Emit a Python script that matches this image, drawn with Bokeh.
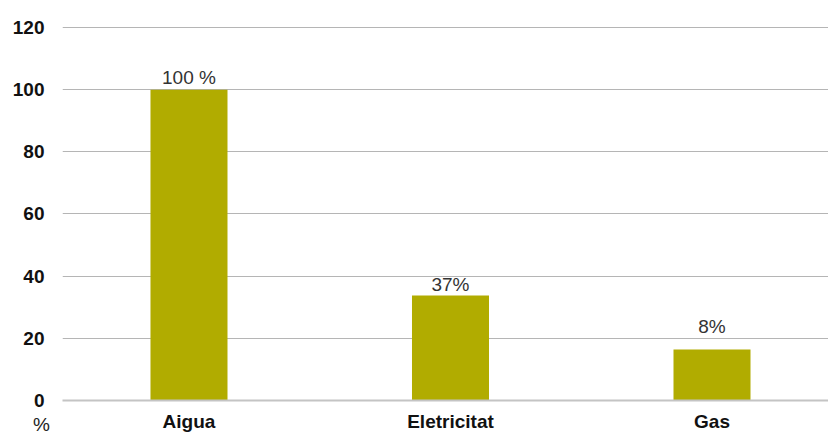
from bokeh.plotting import figure
from bokeh.models import ColumnDataSource, Range1d, FixedTicker, LinearAxis
from bokeh.embed import file_html
from bokeh.resources import INLINE
from bokeh.core.properties import value

categories = ["Aigua", "Eletricitat", "Gas"]
values = [100, 33.8, 16.4]
value_labels = ["100 %", "37%", "8%"]
label_offsets = [-2, 0, -13]
y_ticks = [0, 20, 40, 60, 80, 100, 120]
unit_label = "%"

positions = list(range(len(categories)))
src = ColumnDataSource(dict(x=positions, top=values, lab=value_labels, off=label_offsets))

p = figure(width=828, height=437, output_backend="svg", toolbar_location=None,
           x_range=Range1d(-0.4837, 2.4455), y_range=Range1d(0, 120.32),
           min_border_left=62, min_border_right=0, min_border_top=26, min_border_bottom=37)
p.outline_line_color = None
p.background_fill_color = "white"
p.border_fill_color = "white"
p.extra_x_ranges = {"unit": Range1d(0, 1)}

p.vbar(x="x", top="top", bottom=0, width=0.2945, source=src,
       fill_color="#b1ac00", line_color=None)
p.text(x="x", y="top", text="lab", y_offset="off", source=src,
       text_align="center", text_baseline="bottom",
       text_font=value("Liberation Sans"), text_font_size="19px", text_color="#333333")

# axes
p.yaxis.ticker = FixedTicker(ticks=y_ticks)
p.yaxis.axis_line_color = None
p.yaxis.major_tick_line_color = None
p.yaxis.major_tick_out = 0
p.yaxis.major_tick_in = 0
p.yaxis.minor_tick_line_color = None
p.yaxis.major_label_standoff = 18
p.yaxis.major_label_text_font = "Liberation Sans"
p.yaxis.major_label_text_font_style = "bold"
p.yaxis.major_label_text_font_size = "19px"
p.yaxis.major_label_text_color = "#111111"

p.xaxis.ticker = FixedTicker(ticks=positions)
p.xaxis.major_label_overrides = {i: c for i, c in enumerate(categories)}
p.xaxis.axis_line_color = "#c4c4c4"
p.xaxis.axis_line_width = 2
p.xaxis.major_tick_line_color = None
p.xaxis.major_tick_out = 0
p.xaxis.major_tick_in = 0
p.xaxis.minor_tick_line_color = None
p.xaxis.major_label_standoff = 10
p.xaxis.major_label_text_font = "Liberation Sans"
p.xaxis.major_label_text_font_style = "bold"
p.xaxis.major_label_text_font_size = "19px"
p.xaxis.major_label_text_color = "#111111"

# unit label "%" under the y axis, drawn as a second bottom axis
unit_axis = LinearAxis(x_range_name="unit", ticker=FixedTicker(ticks=[0]),
                       major_label_overrides={0: unit_label + "\u00a0" * 8},
                       axis_line_color=None, major_tick_line_color=None,
                       minor_tick_line_color=None, major_tick_out=0, major_tick_in=0,
                       major_label_standoff=-21,
                       major_label_text_font="Liberation Sans",
                       major_label_text_font_size="19px",
                       major_label_text_color="#222222")
p.add_layout(unit_axis, "below")

p.xgrid.grid_line_color = None
p.ygrid.grid_line_color = "#b5b5b5"
p.ygrid.grid_line_width = 1

open("out.html", "w").write(file_html(p, INLINE))
